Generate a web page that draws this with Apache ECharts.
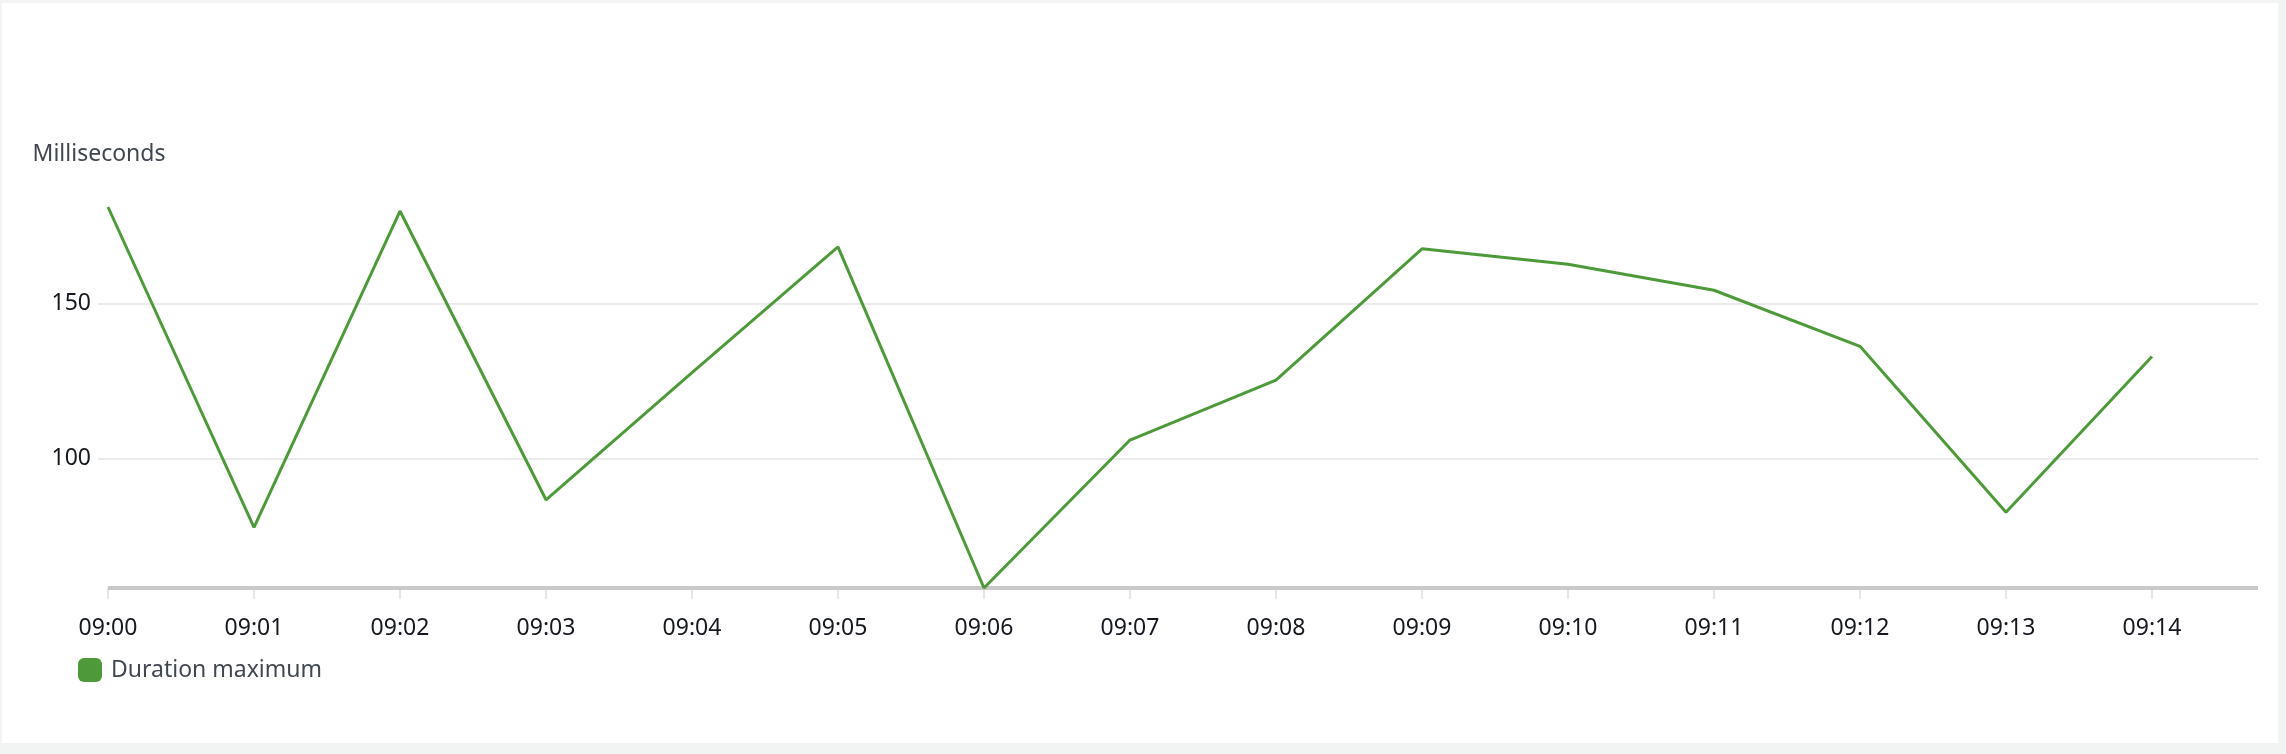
<!DOCTYPE html>
<html>
<head>
<meta charset="utf-8">
<script src="https://cdn.jsdelivr.net/npm/echarts@6/dist/echarts.min.js"></script>
<style>
  html, body { margin: 0; padding: 0; width: 2286px; height: 754px; background: #f2f3f3; overflow: hidden; }
  #panel { position: absolute; left: 2px; top: 3px; width: 2276px; height: 740px; background: #ffffff; }
  #chart { position: absolute; left: 0; top: 0; width: 2286px; height: 754px; }
</style>
</head>
<body>
<div id="panel"></div>
<div id="chart"></div>
<script>
// ---- data ----
const timeLabels = ['09:00','09:01','09:02','09:03','09:04','09:05','09:06','09:07','09:08','09:09','09:10','09:11','09:12','09:13','09:14'];
const durationMaximum = [181.2, 77.7, 179.9, 86.6, 127.7, 168.3, 58.1, 105.9, 125.3, 167.7, 162.7, 154.3, 136.2, 82.6, 132.9];
const yTickValues = [100, 150];
const seriesName = 'Duration maximum';
const yAxisName = 'Milliseconds';

// ---- chart ----
const xIdx = timeLabels.map((_, i) => i);
const yMin = Math.min.apply(null, durationMaximum);
const yMax = Math.max.apply(null, durationMaximum);
const xMin = -10 / 146;
const xMax = 14 + 106 / 146;
const green = '#4e9a3a';

const chart = echarts.init(document.getElementById('chart'), null, { renderer: 'canvas' });
chart.setOption({
  animation: false,
  backgroundColor: 'transparent',
  textStyle: { fontFamily: 'Noto Sans' },
  grid: { left: 98, right: 28, top: 207, bottom: 166, containLabel: false },
  legend: {
    show: true,
    left: 78,
    top: 658,
    padding: 0,
    icon: 'roundRect',
    itemWidth: 24,
    itemHeight: 24,
    itemGap: 20,
    textStyle: { color: '#414750', fontSize: 23, fontFamily: 'Noto Sans', padding: [0, 0, 0, 4] },
    data: [seriesName]
  },
  xAxis: {
    type: 'value',
    min: xMin,
    max: xMax,
    axisLine: { show: false },
    splitLine: { show: false },
    axisTick: {
      show: true,
      customValues: xIdx,
      length: 11,
      lineStyle: { color: '#e6e6e6', width: 2 }
    },
    axisLabel: {
      customValues: xIdx,
      margin: 29,
      color: '#16191f',
      fontSize: 23,
      fontFamily: 'Noto Sans',
      formatter: function (v) { return timeLabels[Math.round(v)]; }
    }
  },
  yAxis: {
    type: 'value',
    min: yMin,
    max: yMax,
    name: yAxisName,
    nameLocation: 'end',
    nameGap: 41,
    nameTextStyle: { color: '#414750', fontSize: 23, fontFamily: 'Noto Sans', padding: [0, 18, 0, 0] },
    axisLine: { show: false },
    axisTick: { show: false, customValues: yTickValues },
    axisLabel: {
      customValues: yTickValues,
      margin: 7,
      color: '#16191f',
      fontSize: 23,
      fontFamily: 'Noto Sans'
    },
    splitLine: { show: true, lineStyle: { color: '#ebebeb', width: 2 } }
  },
  series: [{
    name: seriesName,
    type: 'line',
    data: xIdx.map((x, i) => [x, durationMaximum[i]]),
    showSymbol: false,
    symbol: 'none',
    clip: false,
    itemStyle: { color: green },
    lineStyle: { color: green, width: 3 },
    z: 3,
    markLine: {
      silent: true,
      symbol: ['none', 'none'],
      label: { show: false },
      lineStyle: { color: '#c8c8c8', width: 4, type: 'solid' },
      z: 2,
      data: [[{ coord: [0, yMin] }, { coord: [xMax, yMin] }]]
    }
  }]
});
</script>
</body>
</html>
